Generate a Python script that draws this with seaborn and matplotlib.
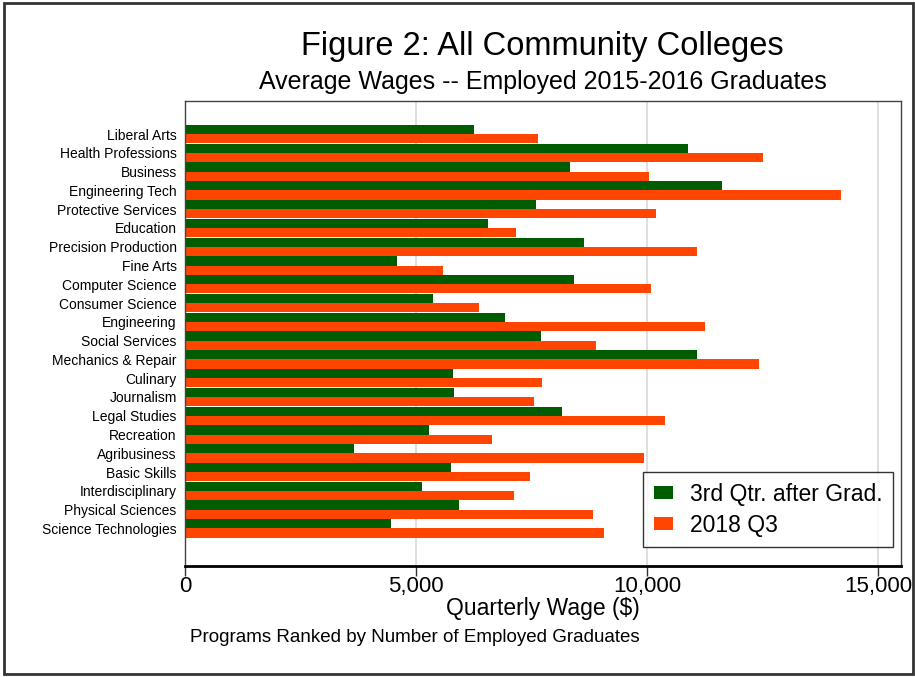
import matplotlib
matplotlib.use("Agg")
import matplotlib.pyplot as plt
import matplotlib.patches as mpatches
from matplotlib.ticker import FuncFormatter
import seaborn as sns
import pandas as pd

# programs, ranked by number of employed graduates
programs = ['Liberal Arts', 'Health Professions', 'Business', 'Engineering Tech',
            'Protective Services', 'Education', 'Precision Production', 'Fine Arts',
            'Computer Science', 'Consumer Science', 'Engineering', 'Social Services',
            'Mechanics & Repair', 'Culinary', 'Journalism', 'Legal Studies',
            'Recreation', 'Agribusiness', 'Basic Skills', 'Interdisciplinary',
            'Physical Sciences', 'Science Technologies']

# average quarterly wages ($)
q3_after_grad = [6250, 10890, 8340, 11620, 7590, 6560, 8640, 4580,
                 8420, 5370, 6920, 7710, 11080, 5800, 5820, 8160,
                 5280, 3650, 5750, 5140, 5930, 4460]
q3_2018 = [7650, 12510, 10050, 14200, 10190, 7160, 11080, 5580,
           10090, 6360, 11260, 8900, 12430, 7730, 7550, 10390,
           6640, 9930, 7470, 7120, 8830, 9070]

series_names = ['3rd Qtr. after Grad.', '2018 Q3']
colors = ['#005c00', '#ff4500']

df = pd.DataFrame({
    'Program': programs * 2,
    'Wage': q3_after_grad + q3_2018,
    'Series': [series_names[0]] * len(programs) + [series_names[1]] * len(programs),
})

sns.set_style("white")
plt.rcParams['font.family'] = ['Liberation Sans', 'DejaVu Sans']
plt.rcParams['text.color'] = 'black'
plt.rcParams['axes.labelcolor'] = 'black'
plt.rcParams['xtick.color'] = 'black'
plt.rcParams['ytick.color'] = 'black'

fig = plt.figure(figsize=(9.15, 6.77), dpi=100)
ax = fig.add_axes([0.2022, 0.164, 0.7825, 0.6868])

sns.barplot(data=df, y='Program', x='Wage', hue='Series', orient='h',
            palette=colors, width=0.98, order=programs, hue_order=series_names,
            saturation=1, linewidth=0, ax=ax, legend=True)

ax.set_xlim(0, 15500)
ax.set_ylim(23.0, -1.76)
ax.set_xticks([0, 5000, 10000, 15000])
ax.xaxis.set_major_formatter(FuncFormatter(lambda v, p: f'{int(v):,}'))
ax.grid(axis='x', color='#d9d9d9', linewidth=1.2)
ax.set_axisbelow(True)

ax.tick_params(axis='x', labelsize=16, length=7, width=1, color='#333333',
               direction='out', bottom=True, pad=0)
ax.tick_params(axis='y', labelsize=10, length=0, pad=6)
ax.set_ylabel('')
ax.set_xlabel('Quarterly Wage ($)', fontsize=16.5, labelpad=0.5)

for side in ['top', 'right', 'left']:
    ax.spines[side].set_color('#444444')
    ax.spines[side].set_linewidth(1.0)
ax.spines['bottom'].set_color('black')
ax.spines['bottom'].set_linewidth(2.0)

leg = ax.legend(loc='lower right', bbox_to_anchor=(0.989, 0.041), fontsize=16.5,
                frameon=True, fancybox=False, edgecolor='black', borderaxespad=0,
                handlelength=0.85, handleheight=0.5, borderpad=0.45,
                labelspacing=0.35, handletextpad=0.75)
leg.get_frame().set_linewidth(1.0)

fig.text(0.593, 0.932, 'Figure 2: All Community Colleges', ha='center', va='center',
         fontsize=23.5)
fig.text(0.593, 0.879, 'Average Wages -- Employed 2015-2016 Graduates', ha='center',
         va='center', fontsize=18)
fig.text(0.2077, 0.058, 'Programs Ranked by Number of Employed Graduates',
         ha='left', va='center', fontsize=13.5)

# outer frame around the whole figure
fig.patches.append(mpatches.Rectangle((0.004, 0.004), 0.994, 0.992,
                                      transform=fig.transFigure, fill=False,
                                      edgecolor='#333333', linewidth=2))

fig.savefig('out.png', dpi=100)
